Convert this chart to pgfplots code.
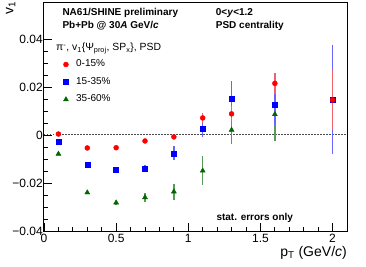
\documentclass[border=0pt]{standalone}
\usepackage{fontspec}
\setmainfont{Liberation Sans}
\usepackage{pgfplots}
\usepackage{pgfplotstable}
\pgfplotsset{compat=1.18}
\definecolor{mred}{rgb}{1,0,0}
\definecolor{mblue}{rgb}{0,0,1}
\definecolor{mgreen}{rgb}{0,0.4,0}
\definecolor{ered}{rgb}{0.95,0.38,0.42}
\definecolor{eblue}{rgb}{0.4,0.4,1}
\definecolor{egreen}{rgb}{0.35,0.6,0.35}
\pgfplotstableread{
x y e
0.1 0.0004 0.0005
0.3 -0.0054 0.0005
0.5 -0.0053 0.0005
0.7 -0.0025 0.0006
0.9 -0.0008 0.0010
1.1 0.0071 0.0021
1.3 0.0088 0.0031
1.6 0.0215 0.0044
2.0 0.0146 0.0124
}\redtab
\pgfplotstableread{
x y e
0.1 -0.0029 0.0005
0.3 -0.0122 0.0006
0.5 -0.0146 0.0008
0.7 -0.0139 0.0015
0.9 -0.0076 0.0030
1.1 0.0025 0.0035
1.3 0.0151 0.0074
1.6 0.0125 0.0085
2.0 0.0146 0.0227
}\bluetab
\pgfplotstableread{
x y e
0.1 -0.0079 0.0006
0.3 -0.0240 0.0007
0.5 -0.0282 0.0008
0.7 -0.0260 0.0018
0.9 -0.0236 0.0033
1.1 -0.0149 0.0061
1.3 0.0021 0.0060
1.6 0.0086 0.0110
}\greentab
\begin{document}
\begin{tikzpicture}
\useasboundingbox (-44pt,-35pt) rectangle (322pt,231pt);
\begin{axis}[
 at={(0pt,0pt)}, anchor=south west,
 scale only axis, width=303pt, height=229pt,
 xmin=0, xmax=2.1, ymin=-0.04, ymax=0.0554,
 axis line style={line width=1pt},
 tick align=inside, xtick pos=bottom, ytick pos=left,
 xtick={0,0.5,1,1.5,2}, xticklabels={0,0.5,1,1.5,2},
 ytick={-0.04,-0.02,0,0.02,0.04}, yticklabels={−0.04,−0.02,0,0.02,0.04},
 minor x tick num=4, minor y tick num=3,
 major tick length=8pt, minor tick length=4pt,
 tick style={line width=0.8pt, black},
 scaled y ticks=false,
 ticklabel style={font=\fontsize{12}{14}\selectfont},
 yticklabel style={inner xsep=1pt},
 reverse legend,
 legend style={at={(axis description cs:0.058,0.752)}, anchor=north west, draw=none, fill=none, inner sep=0pt, font=\fontsize{10}{12}\selectfont, row sep=6.5pt, nodes={inner sep=1pt, text height=7pt, text depth=2pt}, legend cell align=left},
 legend image code/.code={\draw[mark repeat=2,mark phase=2,#1] plot coordinates {(0pt,0pt)(4pt,0pt)(8pt,0pt)}; \path (0pt,0pt) (13pt,0pt);},
]
\addplot[forget plot, gray!60!black, line width=1pt, dash pattern=on 1.5pt off 1.5pt] coordinates {(0,0) (2.1,0)};
\addplot[only marks, mark=triangle*, mark size=2.9pt, color=mgreen, mark options={fill=mgreen, draw=mgreen},
  error bars/.cd, y dir=both, y explicit, error mark=none, error bar style={line width=1.3pt, egreen}]
  table[x=x, y=y, y error=e] {\greentab};
\addlegendentry{35-60\%}
\addplot[only marks, mark=square*, mark size=2.5pt, color=mblue, mark options={fill=mblue, draw=mblue},
  error bars/.cd, y dir=both, y explicit, error mark=none, error bar style={line width=1.3pt, eblue}]
  table[x=x, y=y, y error=e] {\bluetab};
\addlegendentry{15-35\%}
\addplot[only marks, mark=*, mark size=2.5pt, color=mred, mark options={fill=mred, draw=mred},
  error bars/.cd, y dir=both, y explicit, error mark=none, error bar style={line width=1.3pt, ered}]
  table[x=x, y=y, y error=e] {\redtab};
\addlegendentry{0-15\%}
\end{axis}
\node[anchor=base west, font=\bfseries\fontsize{10}{12}\selectfont, inner sep=0pt] at (18.3pt,215.3pt) {NA61/SHINE preliminary};
\node[anchor=base west, font=\bfseries\fontsize{10}{12}\selectfont, inner sep=0pt] at (18.3pt,202.7pt) {Pb+Pb @ 30\textit{A} GeV/\textit{c}};
\node[anchor=base west, font=\bfseries\fontsize{10}{12}\selectfont, inner sep=0pt] at (171.7pt,216pt) {0<\textit{y}<1.2};
\node[anchor=base west, font=\bfseries\fontsize{10}{12}\selectfont, inner sep=0pt] at (171.7pt,202.7pt) {PSD centrality};
\node[anchor=base west, font=\bfseries\fontsize{10}{12}\selectfont, inner sep=0pt] at (172.3pt,10.7pt) {stat. errors only};
\node[anchor=base west, font=\fontsize{10.4}{12}\selectfont, inner sep=0pt] at (12pt,180.3pt) {π\textsuperscript{-}, v\textsubscript{1}\{Ψ\textsubscript{proj}, SP\textsubscript{x}\}, PSD};
\node[anchor=base east, font=\fontsize{14}{16}\selectfont, inner sep=0pt] at (303pt,-25pt) {p\textsubscript{T} (GeV/\textit{c})};
\node[anchor=base east, rotate=90, font=\fontsize{14}{16}\selectfont, inner sep=0pt] at (-30.7pt,230pt) {v\textsubscript{1}};
\end{tikzpicture}
\end{document}
